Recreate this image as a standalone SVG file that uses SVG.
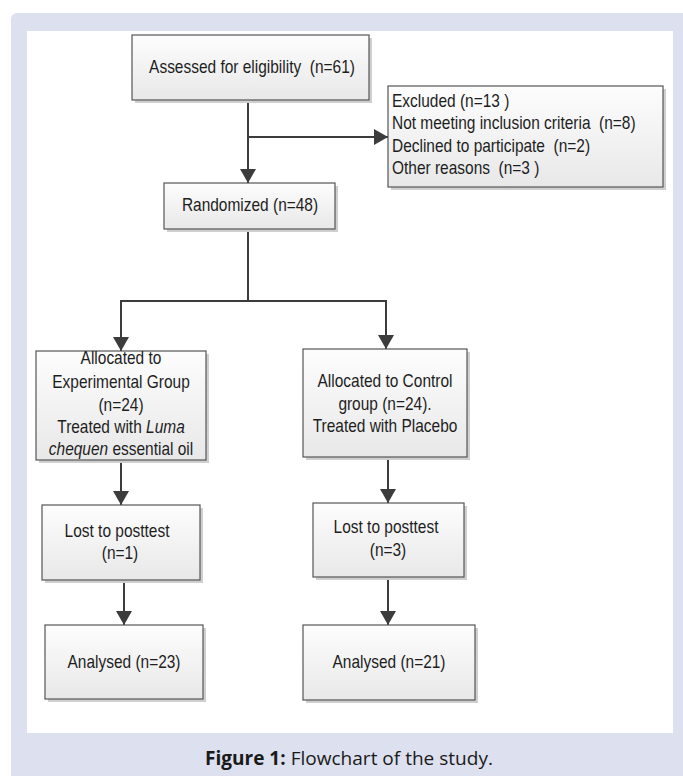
<svg xmlns="http://www.w3.org/2000/svg" width="683" height="776" viewBox="0 0 683 776">
  <defs>
    <linearGradient id="boxfill" x1="0" y1="0" x2="0" y2="1">
      <stop offset="0" stop-color="#fdfdfd"/>
      <stop offset="1" stop-color="#e8e8e8"/>
    </linearGradient>
    <marker id="ah" markerUnits="userSpaceOnUse" markerWidth="14" markerHeight="16" refX="14" refY="8" orient="auto" viewBox="0 0 14 16">
      <path d="M0,0 L14,8 L0,16 z" fill="#3c3c3c"/>
    </marker>
    <style>
      .panel { fill: #dde0ee; }
      .shadow { fill: #cfcfcf; }
      .box { fill: url(#boxfill); stroke: #555555; stroke-width: 1.2; }
      .t { font-family: "Liberation Sans", Arial, sans-serif; font-size: 18px; fill: #1e1e1e; }
      .c { text-anchor: middle; }
      .conn { fill: none; stroke: #3c3c3c; stroke-width: 2; }
      .cap { font-family: "Open Sans", "Noto Sans", sans-serif; font-size: 19px; fill: #1a1a1a; text-anchor: middle; }
    </style>
  </defs>

  <rect class="panel" x="11" y="13" width="690" height="780" rx="6"/>
  <rect x="27" y="31" width="646" height="702" fill="#ffffff"/>

  <g id="connectors">
    <path class="conn" d="M248,100 V183" marker-end="url(#ah)"/>
    <path class="conn" d="M248,137 H388" marker-end="url(#ah)"/>
    <path class="conn" d="M248,229 V301 M120,301 H387"/>
    <path class="conn" d="M121,300 V351" marker-end="url(#ah)"/>
    <path class="conn" d="M386,300 V349" marker-end="url(#ah)"/>
    <path class="conn" d="M121,460 V505" marker-end="url(#ah)"/>
    <path class="conn" d="M124,580 V625" marker-end="url(#ah)"/>
    <path class="conn" d="M388,457 V503" marker-end="url(#ah)"/>
    <path class="conn" d="M388,577 V625" marker-end="url(#ah)"/>
  </g>

  <g id="assessed">
    <rect class="shadow" x="135" y="38" width="237" height="65"/>
    <rect class="box" x="132" y="35" width="237" height="65"/>
    <text class="t c" xml:space="preserve" transform="translate(252,73) scale(0.86,1)">Assessed for eligibility  (n=61)</text>
  </g>

  <g id="excluded">
    <rect class="shadow" x="391" y="89" width="275" height="101"/>
    <rect class="box" x="388" y="86" width="275" height="101"/>
    <text class="t" xml:space="preserve" transform="translate(392,107) scale(0.86,1)">Excluded (n=13 )</text>
    <text class="t" xml:space="preserve" transform="translate(392,129) scale(0.86,1)">Not meeting inclusion criteria  (n=8)</text>
    <text class="t" xml:space="preserve" transform="translate(392,152) scale(0.86,1)">Declined to participate  (n=2)</text>
    <text class="t" xml:space="preserve" transform="translate(392,174) scale(0.86,1)">Other reasons  (n=3 )</text>
  </g>

  <g id="randomized">
    <rect class="shadow" x="167" y="186" width="171" height="46"/>
    <rect class="box" x="164" y="183" width="171" height="46"/>
    <text class="t c" transform="translate(250,211) scale(0.86,1)">Randomized (n=48)</text>
  </g>

  <g id="experimental">
    <rect class="shadow" x="39" y="354" width="170" height="109"/>
    <rect class="box" x="36" y="351" width="170" height="109"/>
    <text class="t c" transform="translate(121,364) scale(0.86,1)">Allocated to</text>
    <text class="t c" transform="translate(121,388) scale(0.86,1)">Experimental Group</text>
    <text class="t c" transform="translate(121,411) scale(0.86,1)">(n=24)</text>
    <text class="t c" transform="translate(121,433) scale(0.86,1)">Treated with <tspan font-style="italic">Luma</tspan></text>
    <text class="t c" transform="translate(121,455) scale(0.86,1)"><tspan font-style="italic">chequen</tspan> essential oil</text>
  </g>

  <g id="control">
    <rect class="shadow" x="306" y="352" width="164" height="108"/>
    <rect class="box" x="303" y="349" width="164" height="108"/>
    <text class="t c" transform="translate(385,387) scale(0.86,1)">Allocated to Control</text>
    <text class="t c" transform="translate(385,410) scale(0.86,1)">group (n=24).</text>
    <text class="t c" transform="translate(385,432) scale(0.86,1)">Treated with Placebo</text>
  </g>

  <g id="lost-exp">
    <rect class="shadow" x="45" y="508" width="158" height="75"/>
    <rect class="box" x="42" y="505" width="158" height="75"/>
    <text class="t c" transform="translate(117,537) scale(0.86,1)">Lost to posttest</text>
    <text class="t c" transform="translate(120,559) scale(0.86,1)">(n=1)</text>
  </g>

  <g id="lost-ctrl">
    <rect class="shadow" x="316" y="506" width="151" height="74"/>
    <rect class="box" x="313" y="503" width="151" height="74"/>
    <text class="t c" transform="translate(386,533) scale(0.86,1)">Lost to posttest</text>
    <text class="t c" transform="translate(388,556) scale(0.86,1)">(n=3)</text>
  </g>

  <g id="analysed-exp">
    <rect class="shadow" x="48" y="628" width="158" height="74"/>
    <rect class="box" x="45" y="625" width="158" height="74"/>
    <text class="t c" transform="translate(124,668) scale(0.86,1)">Analysed (n=23)</text>
  </g>

  <g id="analysed-ctrl">
    <rect class="shadow" x="306" y="628" width="172" height="75"/>
    <rect class="box" x="303" y="625" width="172" height="75"/>
    <text class="t c" transform="translate(389,668) scale(0.86,1)">Analysed (n=21)</text>
  </g>

  <text class="cap" x="349" y="765" textLength="288" lengthAdjust="spacingAndGlyphs"><tspan font-weight="bold">Figure 1:</tspan> Flowchart of the study.</text>
</svg>
